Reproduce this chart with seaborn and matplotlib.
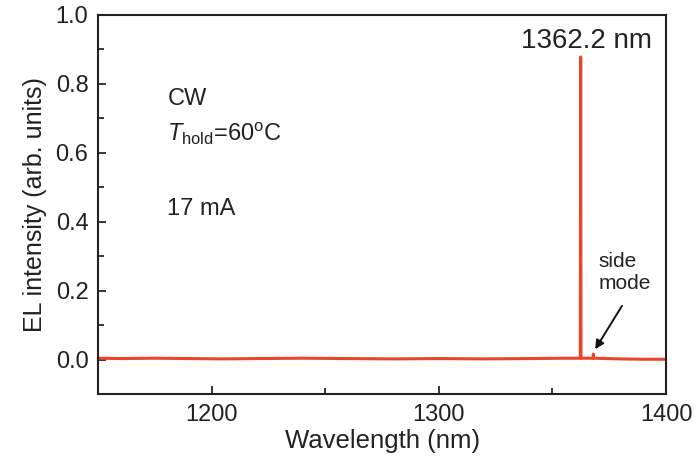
import matplotlib
matplotlib.use('Agg')
import matplotlib.pyplot as plt
import seaborn as sns
import pandas as pd
from matplotlib.ticker import MultipleLocator

# EL spectrum
wavelength = [1150, 1160, 1175, 1190, 1205, 1220, 1240, 1260, 1280, 1300, 1320, 1340,
              1355, 1362.25, 1362.4, 1362.55, 1367.8, 1368.0, 1368.2, 1380, 1390, 1400]
intensity = [0.004, 0.003, 0.004, 0.003, 0.002, 0.003, 0.004, 0.003, 0.002, 0.003, 0.002, 0.003,
             0.004, 0.004, 0.878, 0.004, 0.004, 0.016, 0.004, 0.002, 0.001, 0.001]

peak_label = '1362.2 nm'
conditions = ['CW', r'$T_{\rm hold}$=60$^{\rm o}$C', '17 mA']

df = pd.DataFrame({'wavelength': wavelength, 'intensity': intensity})

sns.set_style('ticks')
plt.rcParams['font.family'] = ['Liberation Sans', 'DejaVu Sans']
plt.rcParams['mathtext.fontset'] = 'custom'
plt.rcParams['mathtext.rm'] = 'Liberation Sans'
plt.rcParams['mathtext.it'] = 'Liberation Sans:italic'

fig = plt.figure(figsize=(6.96, 4.68), dpi=100)
ax = fig.add_axes([0.141, 0.158, 0.816, 0.81])

sns.lineplot(data=df, x='wavelength', y='intensity', color='#e8452c', linewidth=2.2,
             estimator=None, sort=False, ax=ax)

ax.set_xlim(1150, 1400)
ax.set_ylim(-0.1, 1.0)
ax.xaxis.set_major_locator(MultipleLocator(100))
ax.xaxis.set_minor_locator(MultipleLocator(50))
ax.yaxis.set_major_locator(MultipleLocator(0.2))
ax.yaxis.set_minor_locator(MultipleLocator(0.1))
ax.yaxis.set_major_formatter(plt.FormatStrFormatter('%.1f'))
ax.tick_params(which='major', direction='in', length=6, width=1.3, labelsize=17, pad=7,
               labelcolor='#222222')
ax.tick_params(which='minor', direction='in', length=4, width=1.3)
for s in ax.spines.values():
    s.set_linewidth(1.5)
    s.set_color('#222222')

ax.set_xlabel('Wavelength (nm)', fontsize=18.5, labelpad=2, color='#222222')
ax.set_ylabel('EL intensity (arb. units)', fontsize=18, labelpad=6, color='#222222')

ax.text(1365, 0.905, peak_label, fontsize=20, ha='center', va='baseline', color='#222222')
ax.text(1180.5, 0.738, conditions[0], fontsize=17, va='baseline', color='#222222')
ax.text(1180.5, 0.635, conditions[1], fontsize=17, va='baseline', color='#222222')
ax.text(1180.5, 0.42, conditions[2], fontsize=17, va='baseline', color='#222222')

ax.text(1370.2, 0.253, 'side\nmode', fontsize=15, ha='left', va='center',
        color='#222222', linespacing=1.2)
ax.annotate('', xy=(1368.8, 0.03), xytext=(1380.6, 0.156),
            arrowprops=dict(arrowstyle='-|>', color='#111111', lw=1.4, shrinkA=0, shrinkB=0,
                            mutation_scale=13))

fig.savefig('out.png', dpi=100)
